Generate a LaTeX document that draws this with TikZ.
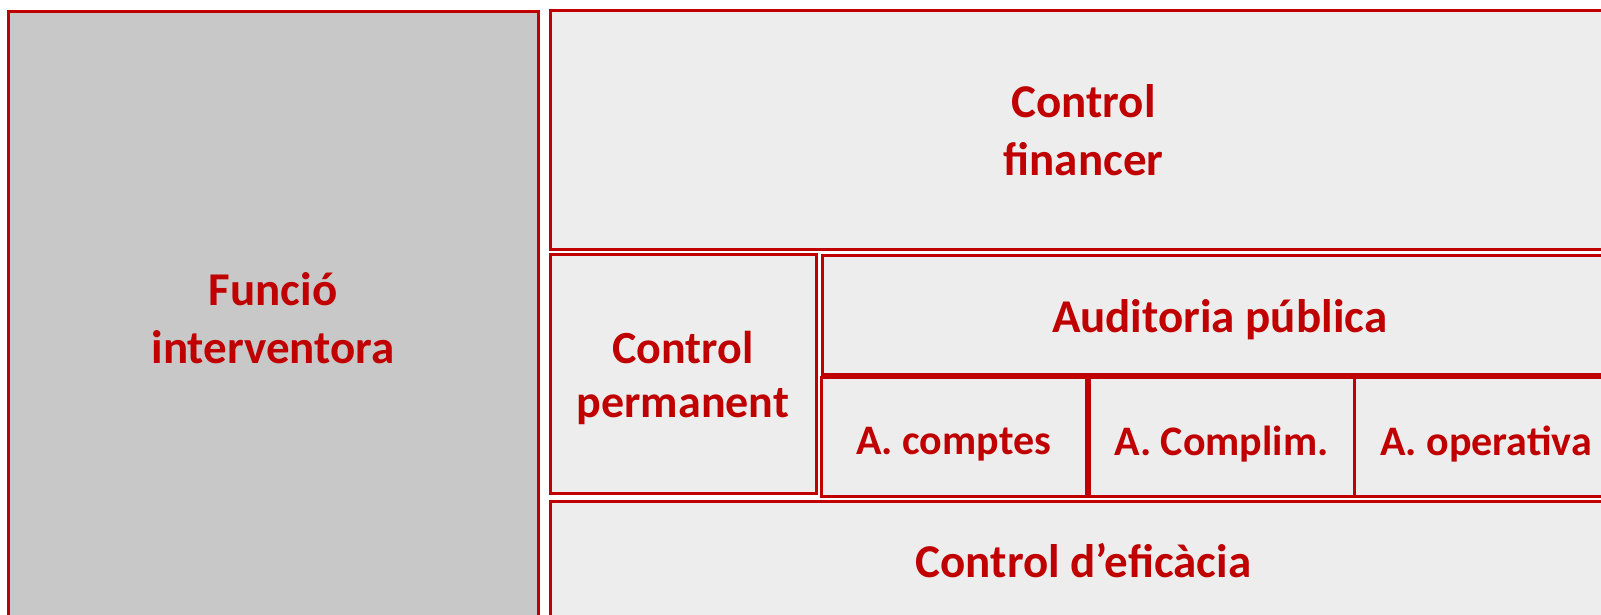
\documentclass[tikz,border=0pt]{standalone}
\usepackage{fontspec}
\setmainfont{Carlito}
\definecolor{boxred}{HTML}{C00000}
\definecolor{darkfill}{HTML}{C8C8C8}
\definecolor{lightfill}{HTML}{EDEDED}
\begin{document}
\begin{tikzpicture}[x=1pt,y=-1pt,
  box/.style={draw=boxred, line width=3pt, fill=lightfill, inner sep=0pt},
  dark/.style={box, fill=darkfill},
  lbl/.style={inner sep=0pt, text=boxred, font=\fontsize{47}{58}\selectfont\bfseries, align=center},
  smalllbl/.style={lbl, font=\fontsize{42}{50}\selectfont\bfseries}]
\useasboundingbox (0,0) rectangle (1601,615);
\fill[white] (0,0) rectangle (1601,615);
\clip (0,0) rectangle (1601,615);
% boxes
\node[dark, minimum width=530pt, minimum height=612pt] (fi) at (273,318) {};
\node[box, minimum width=1067pt, minimum height=238pt] (cf) at (1083.5,130) {};
\node[box, minimum width=266pt, minimum height=239pt] (cp) at (683,373.5) {};
\node[box, minimum width=795pt, minimum height=119pt] (ap) at (1219.5,314.5) {};
\node[box, minimum width=265pt, minimum height=119pt] (ac) at (953.5,436.5) {};
\node[box, minimum width=265pt, minimum height=119pt] (acm) at (1221.5,436.5) {};
\node[box, minimum width=264pt, minimum height=119pt] (ao) at (1486,436.5) {};
\node[box, minimum width=1067pt, minimum height=120pt] (ce) at (1083.5,561) {};
% labels
\node[lbl] (fit) at (fi.center) {Funció\\interventora};
\node[lbl] (cft) at (cf.center) {Control\\financer};
\node[lbl, font=\fontsize{46}{54}\selectfont\bfseries] (cpt) at ([yshift=-4pt]cp.center) {Control\\permanent};
\node[lbl] (apt) at ([yshift=-5pt]ap.center) {Auditoria pública};
\node[smalllbl] (act) at ([yshift=-8pt]ac.center) {A. comptes};
\node[smalllbl] (acmt) at ([yshift=-8pt]acm.center) {A. Complim.};
\node[smalllbl] (aot) at ([yshift=-8pt]ao.center) {A. operativa};
\node[lbl] (cet) at (ce.center) {Control d’eficàcia};
\end{tikzpicture}
\end{document}
